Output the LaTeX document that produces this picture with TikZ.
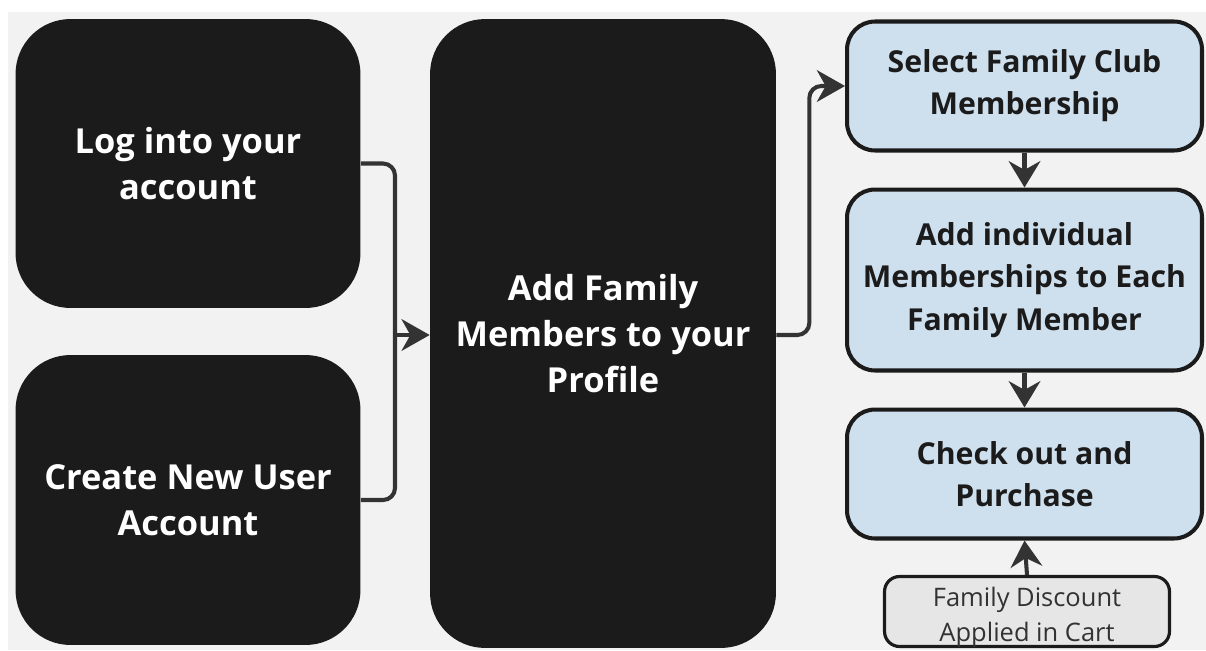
\documentclass[tikz,border=0pt]{standalone}
\usepackage{fontspec}
\setmainfont{Open Sans}
\usetikzlibrary{positioning}
\usetikzlibrary{arrows.meta}
\usepackage{xcolor}
\definecolor{canvas}{HTML}{F2F2F2}
\definecolor{ink}{HTML}{1B1B1B}
\definecolor{wirecol}{HTML}{333333}
\definecolor{paleblue}{HTML}{CEDFEE}
\definecolor{palegray}{HTML}{E6E6E6}
\tikzset{
	darkbox/.style ={rectangle, rounded corners=1.1cm, fill=ink, text=white, align=center,
		inner sep=0pt, minimum width=6.9cm, font=\bfseries\fontsize{19.6}{26.3}\selectfont},
	stepbox/.style ={rectangle, rounded corners=0.56cm, draw=ink, line width=2.3pt, fill=paleblue,
		text=ink, align=center, inner sep=0pt, minimum width=7.1cm, font=\bfseries\fontsize{17.2}{24}\selectfont},
	notebox/.style ={rectangle, rounded corners=0.3cm, draw=ink, line width=1.8pt, fill=palegray,
		text=ink!90, align=center, inner sep=0pt, minimum width=5.7cm, minimum height=1.4cm,
		font=\fontsize{14.5}{20}\selectfont},
	wire/.style = {draw=wirecol, line width=2.3pt, rounded corners=0.24cm},
	flow/.style = {wire, -{Stealth[length=16pt, width=18pt, inset=5pt]}},
	flowshort/.style = {wire, -{Stealth[length=15pt, width=18pt, inset=5pt]}}
}

\begin{document}
\begin{tikzpicture}[x=0.02cm, y=-0.02cm]
	% canvas
	\useasboundingbox (0,0) rectangle (1206,650);
	\fill[white] (0,0) rectangle (1206,650);
	\fill[canvas] (8,12) rectangle (1206,650);

	% entry points
	\node (login) [darkbox, minimum height=5.78cm] at (188,163.5) {Log into your\\account};
	\node (signup) [darkbox, minimum height=5.8cm] at (188,500) {Create New User\\Account};
	\node (profile) [darkbox, minimum width=6.92cm, minimum height=12.58cm] at (603,333.5) {Add Family\\Members to your\\Profile};

	% checkout steps
	\node (select) [stepbox, minimum height=2.58cm] at (1024.5,86) {Select Family Club\\Membership};
	\node (members) [stepbox, minimum height=3.62cm] at (1024.5,280) {Add individual\\Memberships to Each\\Family Member};
	\node (checkout) [stepbox, minimum height=2.58cm] at (1024.5,474) {Check out and\\Purchase};
	\node (discount) [notebox] at (1027,611.5) {\raisebox{-3.5pt}[\height][\depth]{\parbox{5.6cm}{\centering Family Discount\\Applied in Cart}}};

	\coordinate (joint) at (395,335);

	\path[wire] (login.east) -| (joint);
	\path[wire] (signup.east) -| (joint);
	\path[flow] (joint) -- (profile.west |- joint);
	\path[flow] (profile.east |- joint) -- ++(33,0) |- (select.west);
	\path[flowshort] (select.south) -- (members.north);
	\path[flowshort] (members.south) -- (checkout.north);
	\path[flowshort] (discount.north) -- (checkout.south);

\end{tikzpicture}
\end{document}
